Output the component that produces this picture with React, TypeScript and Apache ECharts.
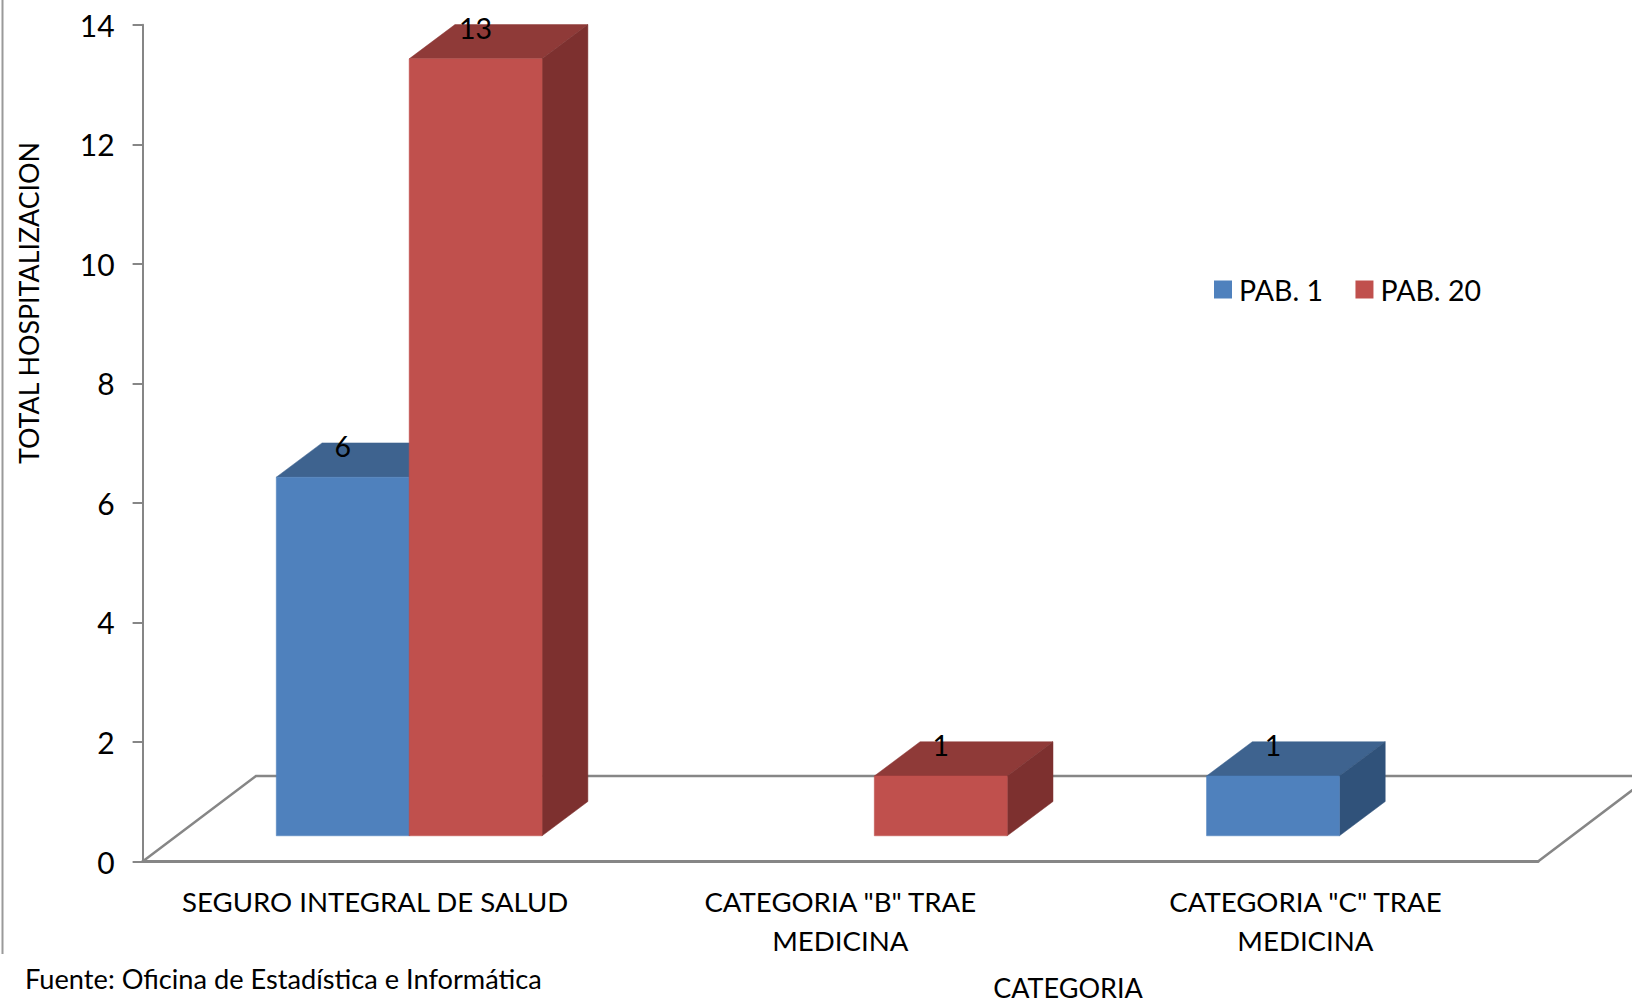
import React, { useEffect, useRef } from "react";
import * as echarts from "echarts";

const CATEGORIES = ['SEGURO INTEGRAL DE SALUD', 'CATEGORIA "B" TRAE\nMEDICINA', 'CATEGORIA "C" TRAE\nMEDICINA'];
const PAB1: (number | null)[] = [6, null, 1];
const PAB20: (number | null)[] = [13, 1, null];
const Y_TICK_MAX = 14;
const Y_TICK_STEP = 2;

const FONT = "Lato, Carlito, 'Open Sans', sans-serif";
const AXIS_GREY = "#868686";

const SHIFT_X = 34;
const SHIFT_Y = 25.7;
const DEPTH_X = 45.8;
const DEPTH_Y = 34.3;
const BAR_RATIO = 133 / 465.5;

const toData = (vals: (number | null)[]) =>
  vals.map((v, i) => (v === null ? null : [i, v])).filter(Boolean) as number[][];

function bar3d(side: -1 | 1, front: string, top: string, right: string) {
  return (_params: any, api: any) => {
    const idx = api.value(0);
    const val = api.value(1);
    const [cx, yTop] = api.coord([idx, val]);
    const [, yBase] = api.coord([idx, 0]);
    const w = api.size([1, 0])[0] * BAR_RATIO;
    const x0 = cx + SHIFT_X + (side < 0 ? -w : 0);
    const x1 = x0 + w;
    const yT = yTop - SHIFT_Y;
    const yB = yBase - SHIFT_Y;
    const poly = (pts: number[][], fill: string) => ({
      type: "polygon",
      shape: { points: pts },
      style: { fill, stroke: fill, lineWidth: 0.5 },
    });
    return {
      type: "group",
      children: [
        poly([[x0, yT], [x0 + DEPTH_X, yT - DEPTH_Y], [x1 + DEPTH_X, yT - DEPTH_Y], [x1, yT]], top),
        poly([[x1, yT], [x1 + DEPTH_X, yT - DEPTH_Y], [x1 + DEPTH_X, yB - DEPTH_Y], [x1, yB]], right),
        poly([[x0, yT], [x1, yT], [x1, yB], [x0, yB]], front),
        {
          type: "text",
          style: {
            text: String(val),
            x: (x0 + x1) / 2,
            y: yT - 31,
            align: "center",
            verticalAlign: "middle",
            fill: "#000",
            font: `28.5px ${FONT}`,
          },
        },
      ],
    };
  };
}

export default function App() {
  const ref = useRef<HTMLDivElement>(null);
  useEffect(() => {
    document.body.style.margin = "0";
    const chart = echarts.init(ref.current!, null, { renderer: "svg" });
    chart.setOption({
      animation: false,
      backgroundColor: "#fff",
      textStyle: { fontFamily: FONT },
      grid: { left: 142.6, top: 24.8, width: 1395.4, height: 836.7, containLabel: false },
      legend: {
        left: 1209,
        top: 270,
        icon: "rect",
        itemWidth: 18,
        itemHeight: 18,
        itemGap: 32.5,
        textStyle: { fontSize: 28.5, color: "#000", fontFamily: FONT, padding: [0, 0, 0, 2] },
        data: ["PAB. 1", "PAB. 20"],
      },
      xAxis: {
        type: "category",
        data: CATEGORIES,
        axisTick: { show: false },
        axisLine: { lineStyle: { color: AXIS_GREY, width: 3 } },
        axisLabel: {
          interval: 0,
          margin: 20,
          color: "#000",
          fontSize: 27.6,
          lineHeight: 39,
          fontFamily: FONT,
        },
      },
      yAxis: {
        type: "value",
        min: 0,
        max: Y_TICK_MAX,
        interval: Y_TICK_STEP,
        splitLine: { show: false },
        axisLine: { show: true, lineStyle: { color: AXIS_GREY, width: 2 } },
        axisTick: { show: true, length: 10, lineStyle: { color: AXIS_GREY, width: 2 } },
        axisLabel: { margin: 28, color: "#000", fontSize: 30, fontFamily: FONT },
      },
      graphic: [
        {
          type: "polyline",
          z: 0,
          shape: { points: [[142.6, 861.5], [256, 776], [1651, 776], [1538, 861.5]] },
          style: { stroke: AXIS_GREY, lineWidth: 2.5, fill: null },
        },
        {
          type: "line",
          z: 0,
          shape: { x1: 2.5, y1: 0, x2: 2.5, y2: 954 },
          style: { stroke: "#9a9a9a", lineWidth: 2 },
        },
        {
          type: "text",
          z: 5,
          x: 28.5,
          y: 303,
          rotation: Math.PI / 2,
          style: {
            text: "TOTAL HOSPITALIZACION",
            align: "center",
            verticalAlign: "middle",
            fill: "#000",
            font: `26.8px ${FONT}`,
          },
        },
        {
          type: "text",
          z: 5,
          x: 1068,
          y: 987,
          style: {
            text: "CATEGORIA",
            align: "center",
            verticalAlign: "middle",
            fill: "#000",
            font: `27px ${FONT}`,
          },
        },
        {
          type: "text",
          z: 5,
          x: 25,
          y: 978,
          style: {
            text: "Fuente: Oficina de Estadística e Informática",
            align: "left",
            verticalAlign: "middle",
            fill: "#000",
            font: `27.2px ${FONT}`,
          },
        },
      ],
      series: [
        {
          name: "PAB. 1",
          type: "custom",
          z: 3,
          clip: false,
          itemStyle: { color: "#4F81BD" },
          data: toData(PAB1),
          encode: { x: 0, y: 1 },
          renderItem: bar3d(-1, "#4F81BD", "#3E638F", "#30527A"),
        },
        {
          name: "PAB. 20",
          type: "custom",
          z: 4,
          clip: false,
          itemStyle: { color: "#C0504D" },
          data: toData(PAB20),
          encode: { x: 0, y: 1 },
          renderItem: bar3d(1, "#C0504D", "#8F3A38", "#7D302F"),
        },
      ],
    });
    return () => chart.dispose();
  }, []);
  return <div ref={ref} style={{ position: "absolute", left: 0, top: 0, width: 1632, height: 1002 }} />;
}
